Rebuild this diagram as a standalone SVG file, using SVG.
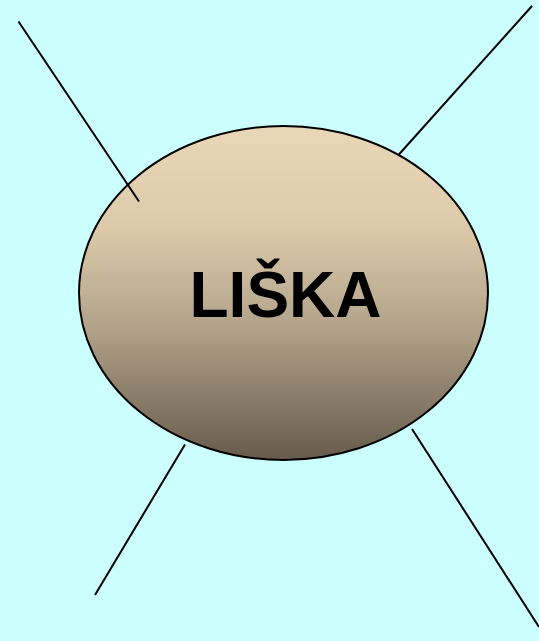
<svg xmlns="http://www.w3.org/2000/svg" width="539" height="641" viewBox="0 0 539 641">
<style>
.ln{stroke:#000;stroke-width:2;fill:none}
.lbl{font-family:"Liberation Sans",Arial,sans-serif;font-weight:bold;font-size:64px;fill:#000}
</style>
<defs>
<linearGradient id="g" x1="0" y1="0" x2="0" y2="1">
<stop offset="0" stop-color="#EAD7B7"/>
<stop offset="0.3" stop-color="#DCCAAA"/>
<stop offset="0.6" stop-color="#B2A38A"/>
<stop offset="1" stop-color="#665B4C"/>
</linearGradient>
</defs>
<rect width="539" height="641" fill="#CCFFFF"/>
<g id="connectors">
<line class="ln" x1="18.5" y1="21.5" x2="139" y2="201.5"/>
<line class="ln" x1="532" y1="6" x2="398" y2="155.5"/>
<line class="ln" x1="185" y1="444.5" x2="95" y2="595"/>
<line class="ln" x1="412" y1="429" x2="539" y2="627"/>
</g>
<g id="liska">
<ellipse cx="283.5" cy="293" rx="204.5" ry="167" fill="url(#g)" stroke="#000" stroke-width="2"/>
<line class="ln" x1="127" y1="183.5" x2="139" y2="201.5"/>
<text class="lbl" x="285.5" y="317" text-anchor="middle">LIŠKA</text>
</g>
</svg>
